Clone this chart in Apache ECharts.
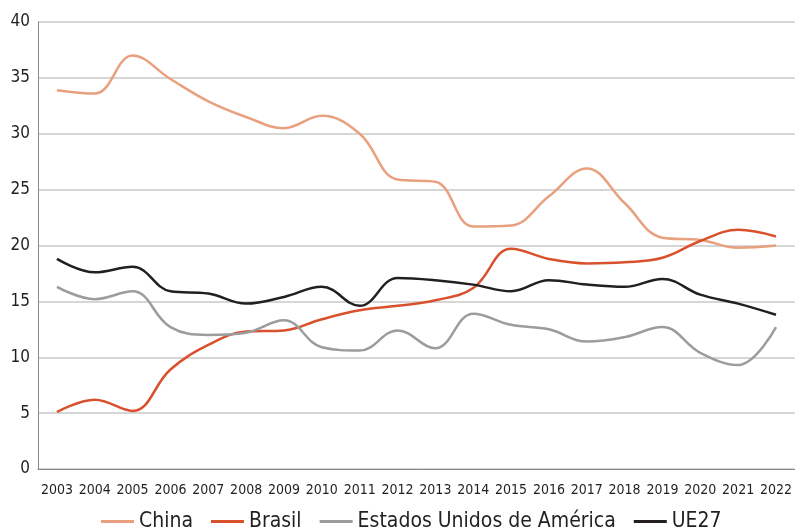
<!DOCTYPE html>
<html>
<head>
<meta charset="utf-8">
<script src="https://cdn.jsdelivr.net/npm/echarts@6/dist/echarts.min.js"></script>
<style>
  html, body { margin: 0; padding: 0; background: #fff; }
  #chart { width: 795px; height: 532px; }
</style>
</head>
<body>
<div id="chart"></div>
<script>
// anos
var years = ['2003', '2004', '2005', '2006', '2007', '2008', '2009', '2010', '2011', '2012',
  '2013', '2014', '2015', '2016', '2017', '2018', '2019', '2020', '2021', '2022']

// valores
var china = [33.9, 33.6, 37.0, 34.9, 32.9, 31.5, 30.5, 31.6, 30.0, 25.9,
  25.7, 21.7, 21.8, 24.4, 26.9, 23.8, 20.7, 20.5, 19.8, 20.0]
var brasil = [5.1, 6.2, 5.2, 8.9, 11.1, 12.3, 12.4, 13.4, 14.2, 14.6,
  15.1, 16.2, 19.7, 18.8, 18.4, 18.5, 18.9, 20.4, 21.4, 20.8]
var eua = [16.3, 15.2, 15.9, 12.7, 12.0, 12.2, 13.3, 10.9, 10.6, 12.4,
  10.8, 13.9, 12.9, 12.5, 11.4, 11.8, 12.7, 10.4, 9.3, 12.7]
var ue27 = [18.8, 17.6, 18.1, 15.9, 15.7, 14.8, 15.4, 16.3, 14.6, 17.1,
  16.9, 16.5, 15.9, 16.9, 16.5, 16.3, 17.0, 15.6, 14.8, 13.8]

var names = ['China', 'Brasil', 'Estados Unidos de América', 'UE27']
var colors = ['#E9A07E', '#D9512C', '#9C9C9F', '#231F20']
var datasets = [china, brasil, eua, ue27]

var font = '"Liberation Sans Narrow", "DejaVu Sans Condensed", "Liberation Sans", sans-serif'

var chart = echarts.init(document.getElementById('chart'))
chart.setOption({
  animation: false,
  color: colors,
  grid: { left: 38, right: 0, top: 22, bottom: 63 },
  legend: {
    bottom: 0,
    left: 96,
    padding: [0, 5],
    icon: 'rect',
    itemWidth: 33,
    itemHeight: 3,
    itemGap: 18,
    textStyle: { fontFamily: font, fontSize: 21, color: '#231F20' },
    data: names
  },
  xAxis: {
    type: 'category',
    data: years,
    boundaryGap: true,
    axisLine: { lineStyle: { color: '#888', width: 1 } },
    axisTick: { show: false },
    axisLabel: { fontFamily: font, fontSize: 14, color: '#231F20', margin: 14, interval: 0 }
  },
  yAxis: {
    type: 'value',
    min: 0,
    max: 40,
    interval: 5,
    axisLine: { show: true, lineStyle: { color: '#888', width: 1 } },
    axisTick: { show: false },
    axisLabel: { fontFamily: font, fontSize: 17, color: '#231F20', margin: 8 },
    splitLine: { lineStyle: { color: '#C8C8C8', width: 1.5 } }
  },
  series: datasets.map(function (d, i) {
    return {
      name: names[i],
      type: 'line',
      data: d,
      smooth: 0.4,
      symbol: 'none',
      lineStyle: { width: 2.5, color: colors[i] }
    }
  })
})
</script>
</body>
</html>
